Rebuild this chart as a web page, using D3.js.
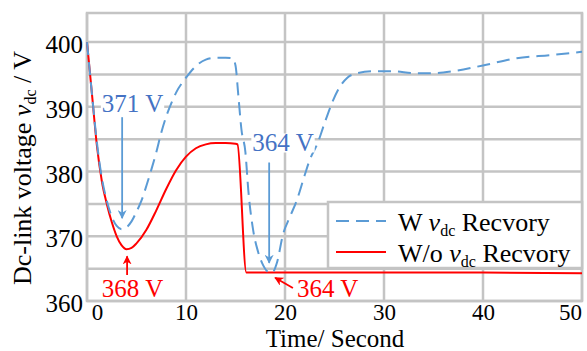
<!DOCTYPE html>
<html>
<head>
<meta charset="utf-8">
<script src="https://cdn.jsdelivr.net/npm/d3@7"></script>
<style>
  body { margin: 0; background: #fff; }
  svg text { font-family: "Liberation Serif", "Times New Roman", "DejaVu Serif", serif; }
</style>
</head>
<body>
<div id="chart"></div>
<script>
// series: with vdc recovery (blue dashed)
const timeW = [0, 0.5, 1, 1.5, 2, 2.5, 3, 3.5, 4, 4.5, 5, 5.5, 6, 6.5, 7, 7.5, 8, 8.5, 9, 10, 11, 12, 13, 14, 14.7,
  15, 15.3, 15.6, 16, 16.3, 16.8, 17.3, 17.8, 18.3, 18.7, 19.2, 19.8, 20.5, 21.2, 22, 22.5, 23.3, 24, 24.8, 25.5,
  26.3, 27.3, 28.9, 31, 33, 35, 37, 40, 43.4, 46.8, 50];
const voltW = [400, 392, 384.5, 379, 375.5, 373, 371.6, 371.1, 371.4, 372.3, 373.8, 375.5, 377.8, 380.3, 383, 386,
  388.5, 390.5, 392.2, 394.5, 396.3, 397.3, 397.6, 397.6, 397.5,
  396.4, 391.5, 386.5, 383, 377, 370.8, 367.5, 365.5, 364.5, 364.4, 366, 370.3, 373, 375.6, 379.5, 381.8, 384.4,
  387.5, 390.8, 393, 394.5, 395.2, 395.5, 395.5, 395.2, 395.2, 395.5, 396.4, 397.5, 398, 398.5];

// series: without vdc recovery (red solid)
const timeWo = [0, 0.5, 1, 1.5, 2, 2.5, 3, 3.5, 4, 4.5, 5, 6, 7, 8, 9, 10, 11, 12, 13, 14, 15, 15.2, 16.1, 20, 30, 40, 50];
const voltWo = [400, 392, 384, 378.5, 375, 372.2, 370, 368.6, 368, 368.2, 368.9, 371, 374, 377.3, 380.2, 382.3,
  383.6, 384.2, 384.4, 384.4, 384.3, 384.2, 364.4, 364.4, 364.4, 364.4, 364.3];

const xTicks = [0, 10, 20, 30, 40, 50];
const yTicks = [360, 370, 380, 390, 400];
const yGrid = [360, 365, 370, 375, 380, 385, 390, 395, 400];

// annotations (label, text anchor point, arrow start, arrow tip) in data units
const notes = [
  { label: "371 V", color: "#4472c4", arrow: "#5b9bd5", tx: 1.5, ty: 389.2, x1: 3.55, y1: 388.4, x2: 3.55, y2: 372.8 },
  { label: "364 V", color: "#4472c4", arrow: "#5b9bd5", tx: 16.7, ty: 383.1, x1: 18.4, y1: 381.4, x2: 18.4, y2: 365.9 },
  { label: "368 V", color: "#ff0000", arrow: "#ff0000", tx: 1.5, ty: 360.6, x1: 4.05, y1: 364.0, x2: 4.05, y2: 366.9 },
  { label: "364 V", color: "#ff0000", arrow: "#ff0000", tx: 21.2, ty: 360.6, x1: 20.8, y1: 362.0, x2: 19.0, y2: 363.6 }
];

const width = 587, height = 351;
const gridColor = "#c4c4c4";
const serif = "'Liberation Serif', 'Times New Roman', 'DejaVu Serif', serif";

const svg = d3.select("#chart").append("svg")
  .attr("width", width)
  .attr("height", height)
  .style("font-family", serif);

const defs = svg.append("defs");
["#5b9bd5", "#ff0000"].forEach((c, i) => {
  defs.append("marker")
    .attr("id", "arr" + i)
    .attr("viewBox", "0 0 10 10")
    .attr("refX", 9).attr("refY", 5)
    .attr("markerWidth", 5).attr("markerHeight", 5)
    .attr("orient", "auto")
    .append("path")
    .attr("d", "M0,0 L10,5 L0,10 L3,5 Z")
    .attr("fill", c);
});

const x = d3.scaleLinear().domain([0, 50]).range([87, 582]);
const y = d3.scaleLinear().domain([360, 404.5]).range([301, 13]);

// grid
svg.append("g").selectAll("line").data(yGrid).join("line")
  .attr("x1", x(0)).attr("x2", x(50))
  .attr("y1", d => y(d)).attr("y2", d => y(d))
  .attr("stroke", gridColor).attr("stroke-width", 2.5);
svg.append("g").selectAll("line").data(xTicks).join("line")
  .attr("y1", y(360)).attr("y2", y(404.5))
  .attr("x1", d => x(d)).attr("x2", d => x(d))
  .attr("stroke", gridColor).attr("stroke-width", 2.5);
svg.append("rect")
  .attr("x", x(0)).attr("y", y(404.5))
  .attr("width", x(50) - x(0)).attr("height", y(360) - y(404.5))
  .attr("fill", "none").attr("stroke", gridColor).attr("stroke-width", 2.5);

// axes (labels only)
const xAxis = svg.append("g")
  .attr("transform", `translate(0,${y(360)})`)
  .call(d3.axisBottom(x).tickValues(xTicks).tickSize(0).tickPadding(3));
xAxis.attr("font-family", null);
xAxis.select(".domain").remove();
xAxis.selectAll("text")
  .attr("fill", "#000")
  .style("font-size", "23px").style("font-family", serif)
  .attr("dx", (d, i) => i === 0 ? 10 : (i === xTicks.length - 1 ? -12 : 0));

const yAxis = svg.append("g")
  .attr("transform", `translate(${x(0)},0)`)
  .call(d3.axisLeft(y).tickValues(yTicks).tickSize(0).tickPadding(4));
yAxis.attr("font-family", null);
yAxis.select(".domain").remove();
yAxis.selectAll("text")
  .attr("fill", "#000")
  .style("font-size", "25px").style("font-family", serif)
  .attr("dy", "0.42em");

// lines
const lineWo = d3.line().x((d, i) => x(timeWo[i])).y(d => y(d)).curve(d3.curveMonotoneX);
const lineW = d3.line().x((d, i) => x(timeW[i])).y(d => y(d)).curve(d3.curveMonotoneX);

svg.append("path").datum(voltWo)
  .attr("fill", "none").attr("stroke", "#ff0000").attr("stroke-width", 2)
  .attr("d", lineWo);
svg.append("path").datum(voltW)
  .attr("fill", "none").attr("stroke", "#5b9bd5").attr("stroke-width", 2)
  .attr("stroke-dasharray", "13,7")
  .attr("d", lineW);

// annotations
notes.forEach(n => {
  const t = svg.append("text")
    .attr("x", x(n.tx)).attr("y", y(n.ty))
    .style("font-size", "25px").attr("fill", n.color)
    .text(n.label);
  const bb = t.node().getBBox();
  svg.insert("rect", () => t.node())
    .attr("x", bb.x - 1).attr("y", bb.y + 4)
    .attr("width", bb.width + 2).attr("height", bb.height - 8)
    .attr("fill", "#fff");
  svg.append("line")
    .attr("x1", x(n.x1)).attr("y1", y(n.y1))
    .attr("x2", x(n.x2)).attr("y2", y(n.y2))
    .attr("stroke", n.arrow).attr("stroke-width", 1.8)
    .attr("marker-end", n.arrow === "#ff0000" ? "url(#arr1)" : "url(#arr0)");
});

// legend
const lg = svg.append("g");
lg.append("rect")
  .attr("x", 328).attr("y", 202).attr("width", 254).attr("height", 66)
  .attr("fill", "#fff").attr("stroke", gridColor).attr("stroke-width", 2.5);
const legendItems = [
  { pre: "W ", color: "#5b9bd5", dash: "13,7", yy: 221 },
  { pre: "W/o ", color: "#ff0000", dash: null, yy: 252 }
];
legendItems.forEach(it => {
  lg.append("line")
    .attr("x1", 336).attr("x2", 386).attr("y1", it.yy).attr("y2", it.yy)
    .attr("stroke", it.color).attr("stroke-width", 2)
    .attr("stroke-dasharray", it.dash);
  const tx = lg.append("text")
    .attr("x", 398).attr("y", it.yy + 10)
    .style("font-size", "26px").attr("fill", "#000");
  tx.append("tspan").text(it.pre);
  tx.append("tspan").style("font-style", "italic").text("v");
  tx.append("tspan").style("font-size", "16px").attr("dy", 5).text("dc");
  tx.append("tspan").attr("dy", -5).text(" Recvory");
});

// axis titles
svg.append("text")
  .attr("x", 335).attr("y", 347)
  .attr("text-anchor", "middle")
  .style("font-size", "25px")
  .text("Time/ Second");

const yt = svg.append("text")
  .attr("transform", "translate(31,168) rotate(-90)")
  .attr("text-anchor", "middle")
  .style("font-size", "26px");
yt.append("tspan").text("Dc-link voltage ");
yt.append("tspan").style("font-style", "italic").text("v");
yt.append("tspan").style("font-size", "16px").attr("dy", 5).text("dc");
yt.append("tspan").attr("dy", -5).text(" / V");
</script>
</body>
</html>
